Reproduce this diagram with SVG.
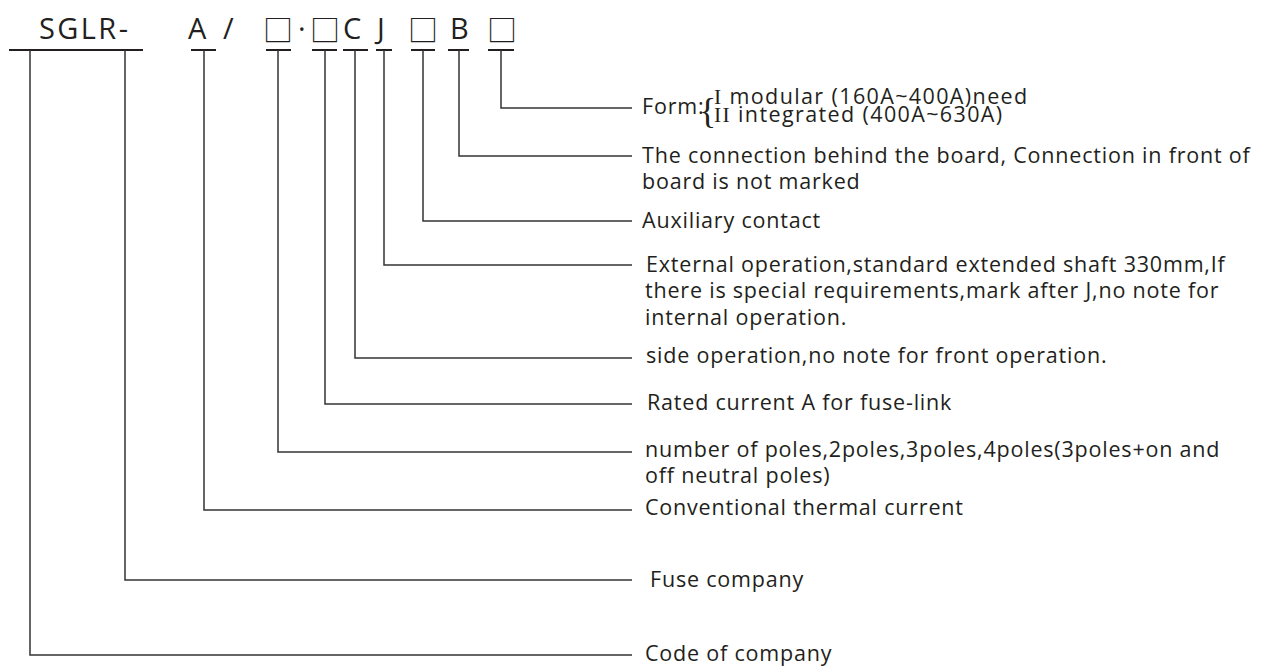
<svg xmlns="http://www.w3.org/2000/svg" width="1271" height="666" viewBox="0 0 1271 666">
<style>
.hd{font-family:"Open Sans","Noto Sans",sans-serif;font-size:29px;fill:#231f20}
.bx{font-family:"Noto Sans CJK SC",sans-serif;font-size:30px;fill:#231f20}
.lb{font-family:"Open Sans","Noto Sans",sans-serif;font-size:21.5px;letter-spacing:0.8px;fill:#231f20}
.sf{font-family:"Liberation Serif",serif}
.br{font-family:"Liberation Serif",serif;font-size:36px;fill:#231f20}
.ul{stroke:#231f20;stroke-width:2;fill:none}
.cn{stroke:#333;stroke-width:1.5;fill:none}
</style>
<rect width="1271" height="666" fill="#fff"/>
<g id="code-sglr"><text class="hd" x="39" y="39" textLength="89" lengthAdjust="spacing">SGLR-</text><line class="ul" x1="9" y1="50" x2="143" y2="50"/></g>
<g id="code-a"><text class="hd" x="188" y="39">A</text><text class="hd" x="223" y="39">/</text><line class="ul" x1="191" y1="50" x2="216" y2="50"/></g>
<g id="code-poles"><text class="bx" x="263" y="41">□</text><line class="ul" x1="266" y1="50" x2="291" y2="50"/></g>
<g id="code-dot"><text class="hd" x="298" y="39">·</text></g>
<g id="code-rated"><text class="bx" x="310" y="41">□</text><line class="ul" x1="312" y1="50" x2="337" y2="50"/></g>
<g id="code-c"><text class="hd" x="343" y="39">C</text><line class="ul" x1="343" y1="50" x2="368" y2="50"/></g>
<g id="code-j"><text class="hd" x="377" y="39">J</text><line class="ul" x1="376" y1="50" x2="392" y2="50"/></g>
<g id="code-aux"><text class="bx" x="408" y="41">□</text><line class="ul" x1="411" y1="50" x2="435" y2="50"/></g>
<g id="code-b"><text class="hd" x="450" y="39">B</text><line class="ul" x1="448" y1="50" x2="469" y2="50"/></g>
<g id="code-form"><text class="bx" x="487" y="41">□</text><line class="ul" x1="488" y1="50" x2="514" y2="50"/></g>
<g id="connectors">
<path class="cn" d="M30 50V655H632"/>
<path class="cn" d="M125 50V580H632"/>
<path class="cn" d="M204 50V510H632"/>
<path class="cn" d="M278 50V452H632"/>
<path class="cn" d="M325 50V404H632"/>
<path class="cn" d="M355 50V358H632"/>
<path class="cn" d="M384 50V265H632"/>
<path class="cn" d="M423 50V221H632"/>
<path class="cn" d="M459 50V156H632"/>
<path class="cn" d="M501 50V108H632"/>
</g>
<g id="label-form"><text class="lb" x="642" y="114" letter-spacing="0">Form:</text><text class="br" x="699" y="123">{</text><text class="lb" x="714" y="104" textLength="314" lengthAdjust="spacing"><tspan class="sf">I</tspan> modular (160A~400A)need</text><text class="lb" x="714" y="122" textLength="289" lengthAdjust="spacing"><tspan class="sf">II</tspan> integrated (400A~630A)</text></g>
<g id="label-b"><text class="lb" x="642" y="163">The connection behind the board, Connection in front of</text><text class="lb" x="642" y="189">board is not marked</text></g>
<g id="label-aux"><text class="lb" x="642" y="228">Auxiliary contact</text></g>
<g id="label-j"><text class="lb" x="646" y="272">External operation,standard extended shaft 330mm,If</text><text class="lb" x="645" y="298">there is special requirements,mark after J,no note for</text><text class="lb" x="645" y="325">internal operation.</text></g>
<g id="label-c"><text class="lb" x="646" y="363">side operation,no note for front operation.</text></g>
<g id="label-rated"><text class="lb" x="647" y="410">Rated current A for fuse-link</text></g>
<g id="label-poles"><text class="lb" x="645" y="457">number of poles,2poles,3poles,4poles(3poles+on and</text><text class="lb" x="645" y="483">off neutral poles)</text></g>
<g id="label-a"><text class="lb" x="645" y="515">Conventional thermal current</text></g>
<g id="label-fuse"><text class="lb" x="650" y="587">Fuse company</text></g>
<g id="label-code"><text class="lb" x="645" y="661">Code of company</text></g>
</svg>
